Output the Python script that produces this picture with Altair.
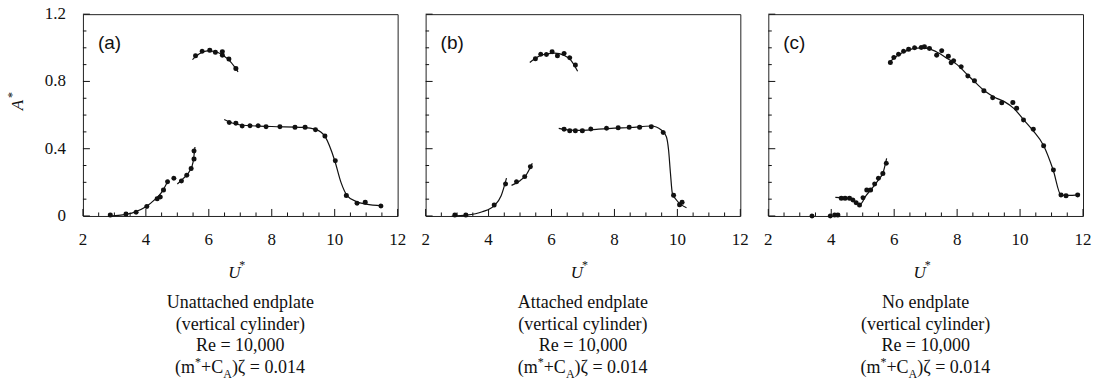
import altair as alt
import pandas as pd

# ---------------- data ----------------
# Panel (a): unattached endplate
A_PTS_U = [2.87, 3.37, 3.69, 4.03, 4.36, 4.46, 4.56, 4.69, 4.89, 5.13, 5.30, 5.44, 5.53, 5.53,
           5.58, 5.79, 6.03, 6.21, 6.43, 6.43, 6.64, 6.86,
           6.65, 6.86, 7.06, 7.31, 7.57, 7.82, 8.26, 8.74, 9.06, 9.39, 9.69, 10.02, 10.37, 10.71, 10.97, 11.47]
A_PTS_A = [0.006, 0.012, 0.022, 0.057, 0.103, 0.113, 0.154, 0.204, 0.224, 0.208, 0.242, 0.283, 0.339, 0.386,
           0.952, 0.980, 0.986, 0.974, 0.976, 0.956, 0.933, 0.877,
           0.556, 0.552, 0.535, 0.537, 0.537, 0.531, 0.531, 0.527, 0.527, 0.513, 0.475, 0.328, 0.122, 0.075, 0.081, 0.059]
A_SEG1_U = [2.8, 3.2, 3.6, 4.0, 4.3, 4.5, 4.72]
A_SEG1_A = [0.0, 0.005, 0.02, 0.055, 0.10, 0.14, 0.215]
A_SEG2_U = [5.0, 5.2, 5.4, 5.5, 5.56]
A_SEG2_A = [0.19, 0.225, 0.27, 0.32, 0.41]
A_SEG3_U = [5.48, 5.7, 5.95, 6.2, 6.45, 6.7, 6.93]
A_SEG3_A = [0.93, 0.965, 0.982, 0.978, 0.955, 0.915, 0.857]
A_SEG4_U = [6.49, 6.8, 7.2, 8.0, 9.0, 9.4, 9.7, 10.0, 10.2, 10.4, 10.7, 11.0, 11.5]
A_SEG4_A = [0.574, 0.55, 0.538, 0.532, 0.527, 0.515, 0.47, 0.33, 0.2, 0.12, 0.085, 0.07, 0.06]

# Panel (b): attached endplate
B_PTS_U = [2.93, 3.28, 4.18, 4.54, 4.89, 5.15, 5.33,
           5.49, 5.66, 5.84, 6.02, 6.19, 6.40, 6.58, 6.76,
           6.40, 6.58, 6.76, 6.98, 7.25, 7.75, 8.12, 8.47, 8.80, 9.17, 9.55, 9.88, 10.07, 10.15]
B_PTS_A = [0.006, 0.006, 0.065, 0.190, 0.204, 0.234, 0.293,
           0.935, 0.962, 0.960, 0.976, 0.952, 0.966, 0.941, 0.897,
           0.515, 0.507, 0.507, 0.507, 0.517, 0.521, 0.525, 0.527, 0.527, 0.531, 0.497, 0.123, 0.067, 0.082]
B_SEG1_U = [2.83, 3.3, 3.8, 4.2, 4.4, 4.57]
B_SEG1_A = [0.0, 0.005, 0.025, 0.065, 0.12, 0.225]
B_SEG2_U = [4.73, 5.0, 5.2, 5.39]
B_SEG2_A = [0.182, 0.21, 0.245, 0.313]
B_SEG3_U = [5.31, 5.6, 5.9, 6.1, 6.4, 6.6, 6.83]
B_SEG3_A = [0.913, 0.95, 0.965, 0.968, 0.955, 0.93, 0.861]
B_SEG4_U = [6.23, 6.5, 7.0, 7.5, 8.0, 8.5, 9.17, 9.49, 9.65, 9.72, 9.78, 9.84, 9.97, 10.29]
B_SEG4_A = [0.521, 0.512, 0.509, 0.516, 0.522, 0.526, 0.535, 0.511, 0.471, 0.392, 0.254, 0.135, 0.095, 0.049]

# Panel (c): no endplate
C_PTS_U = [3.39, 3.97, 4.11, 4.21,
           4.32, 4.44, 4.58, 4.69, 4.79, 4.90, 5.01, 5.13, 5.25, 5.38, 5.50, 5.64, 5.75,
           5.88, 5.99, 6.14, 6.30, 6.46, 6.65, 6.86, 6.96, 7.12, 7.35, 7.51, 7.72, 7.81, 7.89, 8.13,
           8.34, 8.55, 8.85, 9.13, 9.42, 9.77, 9.89, 10.11, 10.42, 10.75, 11.06, 11.30, 11.46, 11.83]
C_PTS_A = [0.0, 0.0, 0.006, 0.006,
           0.105, 0.105, 0.105, 0.095, 0.079, 0.065, 0.109, 0.154, 0.154, 0.190, 0.224, 0.253, 0.313,
           0.913, 0.943, 0.962, 0.980, 0.992, 1.0, 1.002, 1.006, 0.996, 0.956, 0.982, 0.950, 0.911, 0.923, 0.887,
           0.832, 0.804, 0.745, 0.703, 0.673, 0.675, 0.640, 0.570, 0.515, 0.418, 0.273, 0.125, 0.121, 0.125]
C_SEG1_U = [4.13, 4.4, 4.6, 4.8, 4.92, 5.1, 5.3, 5.5, 5.65, 5.76]
C_SEG1_A = [0.111, 0.108, 0.10, 0.08, 0.07, 0.12, 0.165, 0.215, 0.26, 0.343]
C_SEG2_U = [5.82, 6.0, 6.3, 6.6, 6.9, 7.1, 7.4, 7.7, 8.0, 8.3, 8.6, 8.9, 9.2, 9.5, 9.8,
            10.1, 10.4, 10.75, 11.05, 11.3, 11.5, 11.88]
C_SEG2_A = [0.907, 0.94, 0.975, 0.995, 1.0, 0.995, 0.97, 0.935, 0.9, 0.845, 0.79, 0.74, 0.705, 0.68, 0.64,
            0.575, 0.51, 0.418, 0.275, 0.125, 0.122, 0.125]

PANEL_LABELS = ["(a)", "(b)", "(c)"]
CAPTIONS = [["Unattached endplate", "(vertical cylinder)", "Re = 10,000"],
            ["Attached endplate", "(vertical cylinder)", "Re = 10,000"],
            ["No endplate", "(vertical cylinder)", "Re = 10,000"]]
FORMULA_PARTS = ["(m", "*", "+C", "A", ")\u03b6 = 0.014"]

X_MAJOR = [2, 4, 6, 8, 10, 12]
X_LABELS = ["2", "4", "6", "8", "10", "12"]
X_MINOR = [2.5, 3, 3.5, 4.5, 5, 5.5, 6.5, 7, 7.5, 8.5, 9, 9.5, 10.5, 11, 11.5]
Y_MAJOR = [0, 0.4, 0.8, 1.2]
Y_LABELS = ["0", "0.4", "0.8", "1.2"]
Y_MINOR = [0.1, 0.2, 0.3, 0.5, 0.6, 0.7, 0.9, 1.0, 1.1]

# ---------------- styling ----------------
W, H = 315, 202
INK = "#111111"
SERIF = "Liberation Serif"
SANS = "Liberation Sans"


def seg_frame(segs):
    rows = []
    for i, (us, as_) in enumerate(segs):
        for u, a in zip(us, as_):
            rows.append({"seg": i, "U": u, "A": a})
    return pd.DataFrame(rows)


def panel(idx, pts_u, pts_a, segs, show_y):
    xs = alt.Scale(domain=[2, 12], nice=False, zero=False)
    ys = alt.Scale(domain=[0, 1.2], nice=False, zero=True)
    X = alt.X("U:Q", scale=xs, axis=None)
    Y = alt.Y("A:Q", scale=ys, axis=None)

    pts = alt.Chart(pd.DataFrame({"U": pts_u, "A": pts_a})).mark_circle(
        size=25, color=INK, opacity=1).encode(x=X, y=Y)
    lines = alt.Chart(seg_frame(segs)).mark_line(
        color=INK, strokeWidth=1.2, interpolate="monotone").encode(x=X, y=Y, detail="seg:N")

    xmaj = alt.Chart(pd.DataFrame({"U": X_MAJOR})).mark_rule(color=INK, strokeWidth=1).encode(
        x=X, y=alt.value(H), y2=alt.value(H - 7))
    xmin = alt.Chart(pd.DataFrame({"U": X_MINOR})).mark_rule(color=INK, strokeWidth=1).encode(
        x=X, y=alt.value(H), y2=alt.value(H - 3.5))
    ymaj = alt.Chart(pd.DataFrame({"A": Y_MAJOR})).mark_rule(color=INK, strokeWidth=1).encode(
        y=Y, x=alt.value(0), x2=alt.value(7))
    ymin = alt.Chart(pd.DataFrame({"A": Y_MINOR})).mark_rule(color=INK, strokeWidth=1).encode(
        y=Y, x=alt.value(0), x2=alt.value(3.5))

    xlab = alt.Chart(pd.DataFrame({"U": X_MAJOR, "t": X_LABELS})).mark_text(
        font=SERIF, fontSize=17, color=INK, align="center", baseline="middle").encode(
        x=X, y=alt.value(H + 24), text="t:N")

    def txt(t, x, y, size, font=SERIF, italic=False, align="center", angle=0):
        kw = dict(text=t, font=font, fontSize=size, color=INK, align=align, baseline="middle")
        if italic:
            kw["fontStyle"] = "italic"
        if angle:
            kw["angle"] = angle
        return alt.Chart(pd.DataFrame({"k": [0]})).mark_text(**kw).encode(
            x=alt.value(x), y=alt.value(y))

    layers = [lines, pts, xmaj, xmin, ymaj, ymin, xlab]
    if show_y:
        ylab = alt.Chart(pd.DataFrame({"A": Y_MAJOR, "t": Y_LABELS})).mark_text(
            font=SERIF, fontSize=17, color=INK, align="right", baseline="middle").encode(
            y=Y, x=alt.value(-17), text="t:N")
        layers.append(ylab)
        layers.append(txt("A", -65, 91, 17, italic=True, angle=270))
        layers.append(txt("*", -71, 81, 12, angle=270))
    layers.append(txt(PANEL_LABELS[idx], 15, 29, 19, font=SANS, align="left"))
    # x title U*
    layers.append(txt("U", W / 2 - 6, 259, 17, italic=True))
    layers.append(txt("*", W / 2 + 2, 251, 12))
    # captions
    for j, line in enumerate(CAPTIONS[idx]):
        layers.append(txt(line, W / 2, 289 + 21.7 * j, 18))
    fy = 289 + 21.7 * 3
    x0 = W / 2 - 65.3
    layers.append(txt(FORMULA_PARTS[0], x0, fy, 18, align="left"))
    layers.append(txt(FORMULA_PARTS[1], x0 + 20.0, fy - 6, 12, align="left"))
    layers.append(txt(FORMULA_PARTS[2], x0 + 26.0, fy, 18, align="left"))
    layers.append(txt(FORMULA_PARTS[3], x0 + 48.2, fy + 6, 12, align="left"))
    layers.append(txt(FORMULA_PARTS[4], x0 + 56.9, fy, 18, align="left"))
    return alt.layer(*layers).properties(width=W, height=H)


pa = panel(0, A_PTS_U, A_PTS_A,
           [(A_SEG1_U, A_SEG1_A), (A_SEG2_U, A_SEG2_A), (A_SEG3_U, A_SEG3_A), (A_SEG4_U, A_SEG4_A)], True)
pb = panel(1, B_PTS_U, B_PTS_A,
           [(B_SEG1_U, B_SEG1_A), (B_SEG2_U, B_SEG2_A), (B_SEG3_U, B_SEG3_A), (B_SEG4_U, B_SEG4_A)], False)
pc = panel(2, C_PTS_U, C_PTS_A,
           [(C_SEG1_U, C_SEG1_A), (C_SEG2_U, C_SEG2_A)], False)

chart = alt.hconcat(pa, pb, pc, spacing=28, bounds="flush").properties(
    padding={"left": 5, "top": 4, "right": 5, "bottom": 2},
    background="white",
).configure_view(stroke="#222222", strokeWidth=1)

chart.save("out.html", embed_options={"renderer": "svg", "actions": False})
